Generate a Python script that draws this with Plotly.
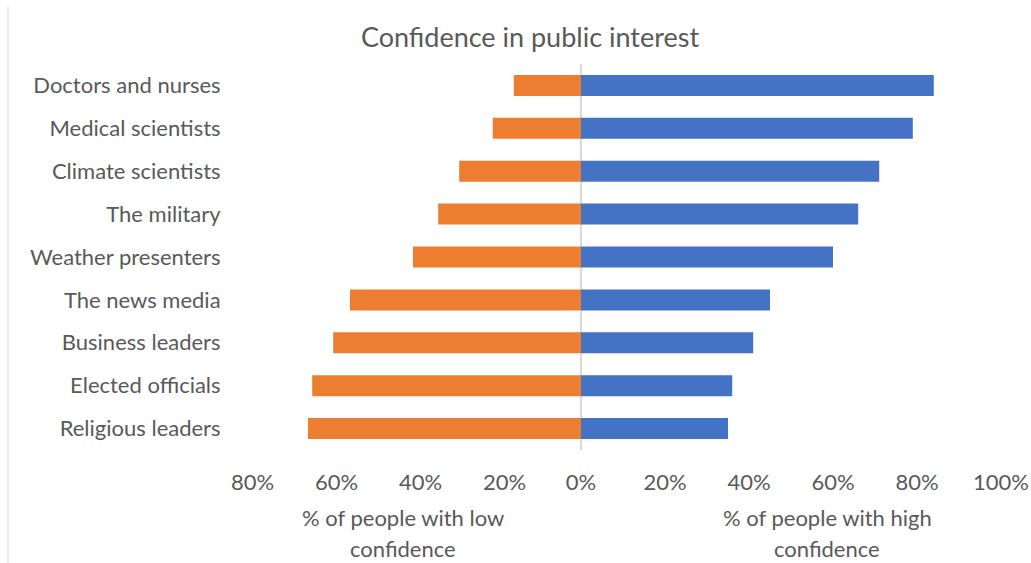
import plotly.graph_objects as go

categories = ["Doctors and nurses", "Medical scientists", "Climate scientists", "The military",
              "Weather presenters", "The news media", "Business leaders", "Elected officials",
              "Religious leaders"]
high_conf = [84, 79, 71, 66, 60, 45, 41, 36, 35]
low_conf = [16, 21, 29, 34, 40, 55, 59, 64, 65]
tick_vals = [-80, -60, -40, -20, 0, 20, 40, 60, 80, 100]
tick_text = ["80%", "60%", "40%", "20%", "0%", "20%", "40%", "60%", "80%", "100%"]

W, H = 1031, 563
ML, MR, MT, MB = 245, 30, 64, 113
FONT = "Lato"
GREY = "#595959"

# Excel renders the negative-side labels with a small leading gap
PAD = "\u2002\u2009\u200a"
tick_labels = [(PAD + t) if v < 0 else t for v, t in zip(tick_vals, tick_text)]

fig = go.Figure()
fig.add_trace(go.Bar(y=categories, x=[-v for v in low_conf], orientation="h",
                     marker=dict(color="#ED7D31", line=dict(width=0)), width=0.49,
                     name="Low confidence"))
fig.add_trace(go.Bar(y=categories, x=high_conf, orientation="h",
                     marker=dict(color="#4472C4", line=dict(width=0)), width=0.49,
                     name="High confidence"))

fig.update_layout(
    width=W, height=H, autosize=False,
    margin=dict(l=ML, r=MR, t=MT, b=MB),
    paper_bgcolor="white", plot_bgcolor="white",
    barmode="overlay", showlegend=False,
    font=dict(family=FONT, color=GREY, size=22),
    title=dict(text="Confidence in public interest", x=530 / W, xanchor="center",
               y=1 - 38 / H, yanchor="middle", font=dict(size=27, color=GREY, family=FONT)),
    xaxis=dict(range=[-80, 100], tickvals=tick_vals, ticktext=tick_labels,
               showgrid=False, zeroline=True, zerolinecolor="#d9d9d9", zerolinewidth=2,
               showline=False, ticks="outside", ticklen=13, tickcolor="rgba(0,0,0,0)",
               tickfont=dict(size=22, color=GREY), fixedrange=True, automargin=False),
    yaxis=dict(autorange="reversed", showgrid=False, showline=False, ticks="outside",
               ticklen=19, tickcolor="rgba(0,0,0,0)", tickfont=dict(size=22, color=GREY),
               automargin=False),
)

pw = W - ML - MR
ph = H - MT - MB
def px_x(x):
    return (x - ML) / pw
def px_y(y):
    return 1 - (y - MT) / ph

for cx, lines in [(403, ["% of people with low", "confidence"]),
                  (827, ["% of people with high", "confidence"])]:
    for yy, txt in zip([517, 548], lines):
        fig.add_annotation(text=txt, xref="paper", yref="paper", x=px_x(cx), y=px_y(yy),
                           xanchor="center", yanchor="middle", showarrow=False,
                           font=dict(size=22, color=GREY, family=FONT))

fig.add_shape(type="line", xref="paper", yref="paper", x0=px_x(8), x1=px_x(8),
              y0=px_y(7), y1=px_y(563), line=dict(color="#d9d9d9", width=1))

post = ("document.documentElement.style.margin='0';document.documentElement.style.overflow='hidden';"
        "document.body.style.margin='0';document.body.style.overflow='hidden';"
        "var gd=document.getElementById('{plot_id}');"
        "Plotly.relayout(gd,{width:%d,height:%d});" % (W, H))
fig.write_html("out.html", config={"displayModeBar": False, "responsive": False},
               post_script=post)
